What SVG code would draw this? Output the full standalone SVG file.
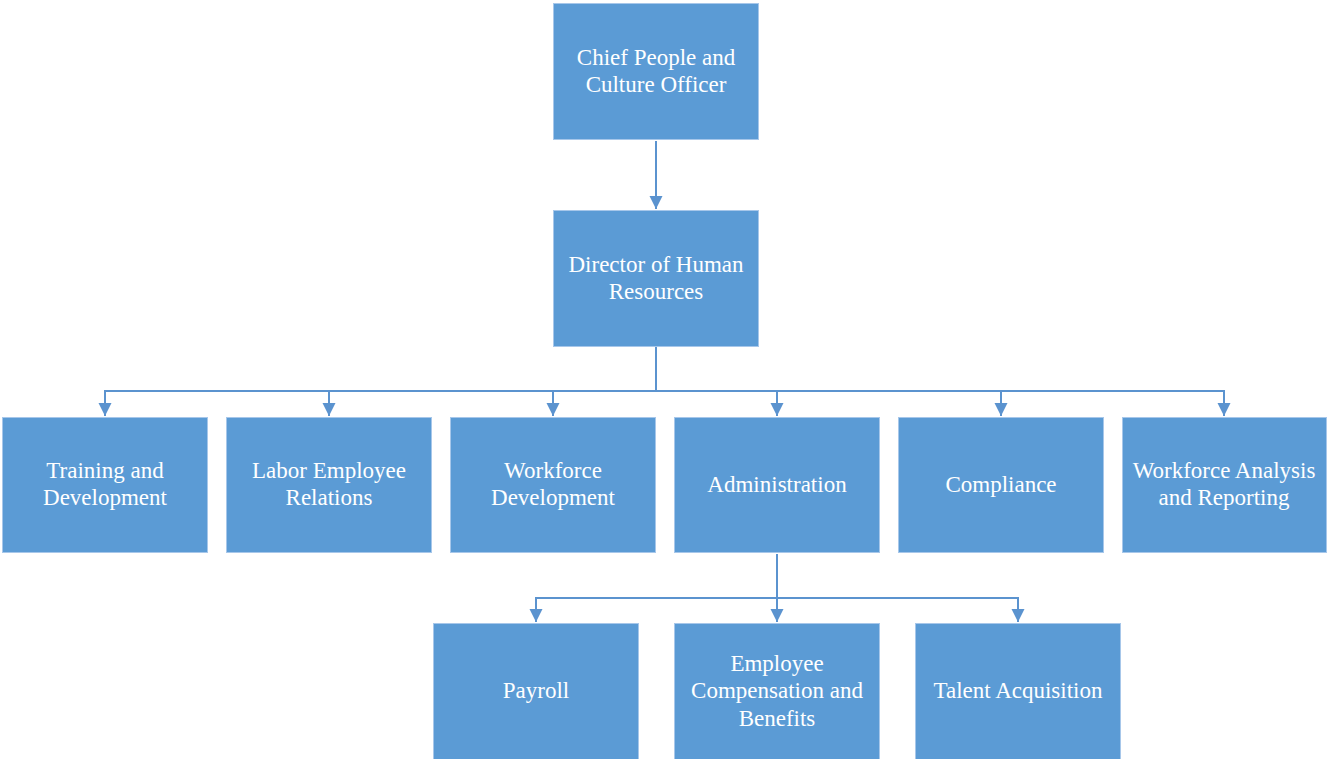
<svg xmlns="http://www.w3.org/2000/svg" width="1327" height="759" viewBox="0 0 1327 759">
<style>
.n{fill:#5B9BD5;stroke:#A7C7EA;stroke-width:1}
.t{font-family:"Liberation Serif","Times New Roman",serif;font-size:23px;fill:#FFFFFF;text-anchor:middle}
.c{fill:none;stroke:#5B93CF;stroke-width:2}
</style>
<defs>
<marker id="ah" markerWidth="14" markerHeight="14" refX="13" refY="7" orient="auto" markerUnits="userSpaceOnUse">
<path d="M0,0.5 L13,7 L0,13.5 Z" fill="#5B93CF"/>
</marker>
</defs>
<rect width="1327" height="759" fill="#FFFFFF"/>
<g id="connectors">
<path class="c" d="M656,141 V209" marker-end="url(#ah)"/>
<path class="c" d="M656,347 V391 M105,391 H1224"/>
<path class="c" d="M105,390 V416" marker-end="url(#ah)"/>
<path class="c" d="M329,390 V416" marker-end="url(#ah)"/>
<path class="c" d="M553,390 V416" marker-end="url(#ah)"/>
<path class="c" d="M777,390 V416" marker-end="url(#ah)"/>
<path class="c" d="M1001,390 V416" marker-end="url(#ah)"/>
<path class="c" d="M1224,390 V416" marker-end="url(#ah)"/>
<path class="c" d="M536,598 H1018"/>
<path class="c" d="M777,554 V622" marker-end="url(#ah)"/>
<path class="c" d="M536,597 V622" marker-end="url(#ah)"/>
<path class="c" d="M1018,597 V622" marker-end="url(#ah)"/>
</g>
<g id="chief"><rect class="n" x="553.5" y="3.5" width="205" height="136"/><text class="t" x="656" y="65">Chief People and</text><text class="t" x="656" y="92">Culture Officer</text></g>
<g id="director"><rect class="n" x="553.5" y="210.5" width="205" height="136"/><text class="t" x="656" y="272">Director of Human</text><text class="t" x="656" y="299">Resources</text></g>
<g id="training"><rect class="n" x="2.5" y="417.5" width="205" height="135"/><text class="t" x="105" y="478">Training and</text><text class="t" x="105" y="505">Development</text></g>
<g id="labor"><rect class="n" x="226.5" y="417.5" width="205" height="135"/><text class="t" x="329" y="478">Labor Employee</text><text class="t" x="329" y="505">Relations</text></g>
<g id="workforce"><rect class="n" x="450.5" y="417.5" width="205" height="135"/><text class="t" x="553" y="478">Workforce</text><text class="t" x="553" y="505">Development</text></g>
<g id="administration"><rect class="n" x="674.5" y="417.5" width="205" height="135"/><text class="t" x="777" y="492">Administration</text></g>
<g id="compliance"><rect class="n" x="898.5" y="417.5" width="205" height="135"/><text class="t" x="1001" y="492">Compliance</text></g>
<g id="analysis"><rect class="n" x="1122.5" y="417.5" width="204" height="135"/><text class="t" x="1224" y="478">Workforce Analysis</text><text class="t" x="1224" y="505">and Reporting</text></g>
<g id="payroll"><rect class="n" x="433.5" y="623.5" width="205" height="136"/><text class="t" x="536" y="698">Payroll</text></g>
<g id="compensation"><rect class="n" x="674.5" y="623.5" width="205" height="136"/><text class="t" x="777" y="671">Employee</text><text class="t" x="777" y="698">Compensation and</text><text class="t" x="777" y="726">Benefits</text></g>
<g id="talent"><rect class="n" x="915.5" y="623.5" width="205" height="136"/><text class="t" x="1018" y="698">Talent Acquisition</text></g>
</svg>
